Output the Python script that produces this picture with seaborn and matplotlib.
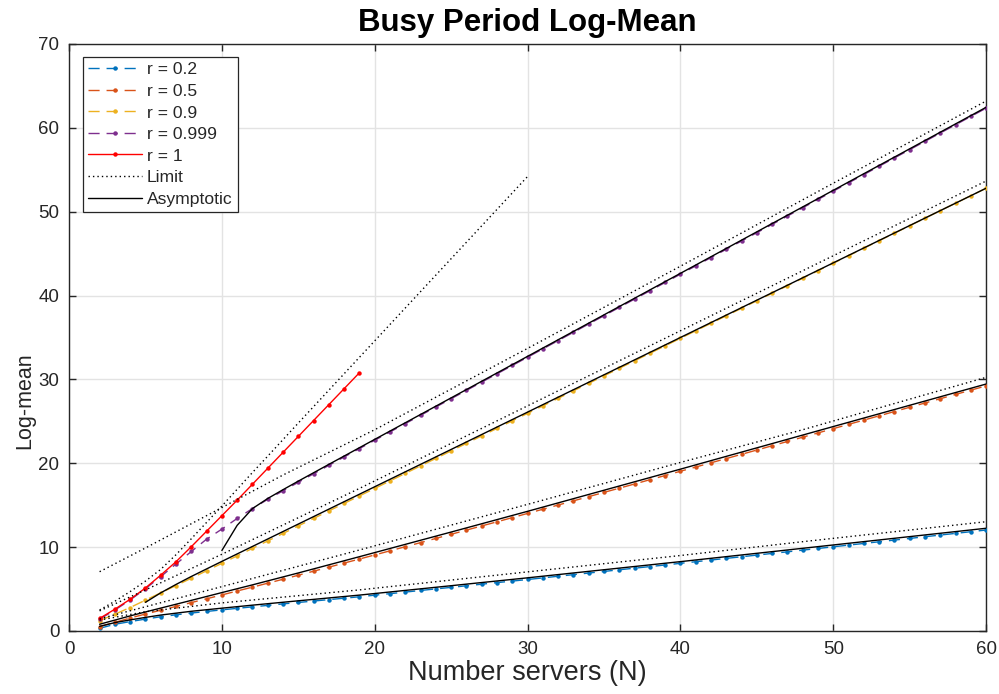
import matplotlib
matplotlib.use("Agg")
import matplotlib.pyplot as plt
import seaborn as sns
import pandas as pd

# ---------------- data ----------------
N_all = list(range(2, 61))
N_r1 = list(range(2, 20))

r02 = [0.32, 0.80, 1.12, 1.42, 1.70, 1.93, 2.14, 2.33, 2.52, 2.70, 2.88, 3.05, 3.23, 3.40,
       3.57, 3.74, 3.91, 4.08, 4.27, 4.45, 4.64, 4.83, 5.02, 5.20, 5.39, 5.58, 5.77, 5.95,
       6.14, 6.33, 6.53, 6.72, 6.91, 7.10, 7.30, 7.49, 7.68, 7.87, 8.07, 8.26, 8.46, 8.66,
       8.85, 9.05, 9.25, 9.44, 9.64, 9.84, 10.04, 10.24, 10.44, 10.64, 10.84, 11.04, 11.24,
       11.44, 11.64, 11.84, 12.04]
r05 = [0.52, 1.03, 1.55, 2.02, 2.48, 2.93, 3.39, 3.84, 4.30, 4.77, 5.23, 5.70, 6.17, 6.65,
       7.13, 7.61, 8.10, 8.58, 9.07, 9.56, 10.05, 10.54, 11.04, 11.53, 12.03, 12.53, 13.02,
       13.52, 14.02, 14.52, 15.02, 15.52, 16.02, 16.53, 17.03, 17.53, 18.04, 18.54, 19.05,
       19.55, 20.06, 20.56, 21.07, 21.58, 22.09, 22.60, 23.11, 23.62, 24.13, 24.64, 25.15,
       25.66, 26.17, 26.68, 27.19, 27.70, 28.21, 28.72, 29.23]
r09 = [1.23, 2.00, 2.80, 3.68, 4.55, 5.42, 6.29, 7.18, 8.07, 8.96, 9.85, 10.74, 11.63, 12.53,
       13.42, 14.32, 15.21, 16.11, 17.00, 17.90, 18.79, 19.69, 20.58, 21.48, 22.37, 23.27,
       24.16, 25.06, 25.95, 26.85, 27.74, 28.64, 29.53, 30.43, 31.32, 32.22, 33.11, 34.01,
       34.90, 35.80, 36.69, 37.59, 38.48, 39.38, 40.27, 41.17, 42.06, 42.96, 43.85, 44.75,
       45.64, 46.54, 47.43, 48.33, 49.22, 50.12, 51.01, 51.91, 52.80]
r0999 = [1.42, 2.50, 3.70, 5.05, 6.48, 7.99, 9.48, 10.95, 12.15, 13.42, 14.60, 15.70, 16.72,
         17.73, 18.75, 19.75, 20.76, 21.75, 22.75, 23.74, 24.73, 25.72, 26.71, 27.70, 28.69,
         29.68, 30.67, 31.66, 32.65, 33.64, 34.63, 35.62, 36.61, 37.60, 38.59, 39.58, 40.57,
         41.56, 42.55, 43.54, 44.53, 45.52, 46.51, 47.50, 48.49, 49.48, 50.47, 51.46, 52.45,
         53.44, 54.43, 55.42, 56.41, 57.40, 58.39, 59.38, 60.37, 61.36, 62.35]
r1 = [1.50, 2.60, 3.78, 5.13, 6.66, 8.26, 10.05, 11.90, 13.75, 15.60, 17.50, 19.40, 21.30,
      23.20, 25.10, 27.00, 28.90, 30.80]

# Limit curves (dotted)
lim_N_02 = [2, 5, 10, 19, 30, 40, 48, 60]
lim_02 = [1.30, 2.30, 3.35, 4.90, 7.05, 9.00, 10.65, 13.03]
lim_N_05 = [2, 10, 19, 30, 40, 48, 60]
lim_05 = [1.45, 5.29, 9.66, 15.10, 20.10, 24.00, 30.25]
lim_N_09 = [2, 5, 10, 19, 30, 40, 50, 60]
lim_09 = [2.40, 4.90, 9.15, 17.00, 26.85, 35.80, 44.75, 53.66]
lim_N_0999 = [2, 5, 9.67, 14, 20, 30, 40, 50, 60]
lim_0999 = [7.07, 9.90, 14.40, 18.60, 24.00, 33.70, 43.50, 53.40, 63.20]
lim_N_1 = [2, 3, 4, 5, 6, 7, 8, 9, 10, 11, 12, 13, 15, 20, 25, 30]
lim_1 = [2.50, 3.55, 4.70, 5.95, 7.35, 9.10, 11.00, 12.95, 14.90, 16.90, 18.90, 20.85,
         24.80, 34.60, 44.40, 54.20]

# Asymptotic curves (solid black)
asy_N_02 = [2, 3, 4, 5, 6, 8, 10, 12, 15, 19, 25, 30, 40, 48, 60]
asy_02 = [0.55, 1.00, 1.32, 1.62, 1.90, 2.35, 2.72, 3.08, 3.60, 4.28, 5.40, 6.34, 8.27, 9.86, 12.25]
asy_N_05 = [2, 3, 4, 5, 6, 8, 10, 12, 15, 19, 25, 30, 40, 50, 60]
asy_05 = [0.80, 1.30, 1.80, 2.27, 2.73, 3.65, 4.58, 5.50, 6.92, 8.86, 11.80, 14.27, 19.30, 24.38, 29.45]
asy_N_09 = [5, 6, 7, 8, 10, 15, 20, 30, 40, 50, 60]
asy_09 = [3.42, 4.55, 5.55, 6.50, 8.30, 12.75, 17.20, 26.10, 35.00, 43.90, 52.80]
asy_N_0999 = [10, 11, 12, 13, 14, 15, 17, 20, 25, 30, 40, 50, 60]
asy_0999 = [9.60, 12.60, 14.60, 15.80, 16.85, 17.87, 19.87, 22.85, 27.80, 32.75, 42.65, 52.55, 62.45]

labels = ["r = 0.2", "r = 0.5", "r = 0.9", "r = 0.999", "r = 1"]
colors = ["#0072BD", "#D95319", "#EDB120", "#7E2F8E", "#FF0000"]

# ---------------- style ----------------
sns.set_theme(style="whitegrid")
plt.rcParams["font.family"] = ["Liberation Sans", "DejaVu Sans"]

fig = plt.figure(figsize=(9.99, 6.94), dpi=100)
ax = fig.add_axes([0.0691, 0.0908, 0.918, 0.8458])
ax.set_facecolor("white")

series = [(N_all, r02), (N_all, r05), (N_all, r09), (N_all, r0999), (N_r1, r1)]
handles = []
for i, ((xs, ys), lab, col) in enumerate(zip(series, labels, colors)):
    ls = "-" if i == 4 else (0, (8, 5))
    df = pd.DataFrame({"N": xs, "v": ys})
    sns.lineplot(data=df, x="N", y="v", ax=ax, color=col, linestyle=ls, linewidth=1.0,
                 marker="o", markersize=3.2, markeredgewidth=0, label=lab, zorder=3)
    handles.append(ax.get_lines()[-1])

lim_sets = [(lim_N_02, lim_02), (lim_N_05, lim_05), (lim_N_09, lim_09),
            (lim_N_0999, lim_0999), (lim_N_1, lim_1)]
for j, (xs, ys) in enumerate(lim_sets):
    df = pd.DataFrame({"N": xs, "v": ys})
    sns.lineplot(data=df, x="N", y="v", ax=ax, color="black", linestyle=(0, (1, 2.2)),
                 linewidth=1.0, label="Limit" if j == 0 else "_nolegend_", zorder=4)
    if j == 0:
        handles.append(ax.get_lines()[-1])

asy_sets = [(asy_N_02, asy_02), (asy_N_05, asy_05), (asy_N_09, asy_09), (asy_N_0999, asy_0999)]
for j, (xs, ys) in enumerate(asy_sets):
    df = pd.DataFrame({"N": xs, "v": ys})
    sns.lineplot(data=df, x="N", y="v", ax=ax, color="black", linestyle="-",
                 linewidth=1.0, label="Asymptotic" if j == 0 else "_nolegend_", zorder=5)
    if j == 0:
        handles.append(ax.get_lines()[-1])

ax.set_xlim(0, 60)
ax.set_ylim(0, 70)
ax.set_xticks(range(0, 61, 10))
ax.set_yticks(range(0, 71, 10))

spine_col = "#262626"
for s in ax.spines.values():
    s.set_visible(True)
    s.set_color(spine_col)
    s.set_linewidth(1.0)
ax.grid(True, color="#e3e3e3", linewidth=1.0)
ax.tick_params(axis="both", which="both", direction="in", length=5, width=1.0,
               colors=spine_col, labelsize=13.5, top=True, right=True, bottom=True, left=True,
               labelcolor=spine_col)
ax.tick_params(axis="x", pad=7)
ax.tick_params(axis="y", pad=7)

ax.set_title("Busy Period Log-Mean", fontsize=22.5, fontweight="bold", color="black", pad=9)
ax.set_xlabel("Number servers (N)", fontsize=19.5, color=spine_col, labelpad=2)
ax.set_ylabel("Log-mean", fontsize=15.5, color=spine_col)
ax.yaxis.set_label_coords(-0.037, 0.392)

leg = ax.legend(handles=handles, labels=labels + ["Limit", "Asymptotic"],
                loc="upper left", bbox_to_anchor=(0.0153, 0.978), borderaxespad=0,
                fontsize=12.6, frameon=True, fancybox=False, framealpha=1,
                handlelength=3.05, handletextpad=0.3, labelspacing=0.36,
                borderpad=0.3, edgecolor=spine_col)
leg.get_frame().set_linewidth(0.9)

fig.savefig("out.png", dpi=100, facecolor="white")
